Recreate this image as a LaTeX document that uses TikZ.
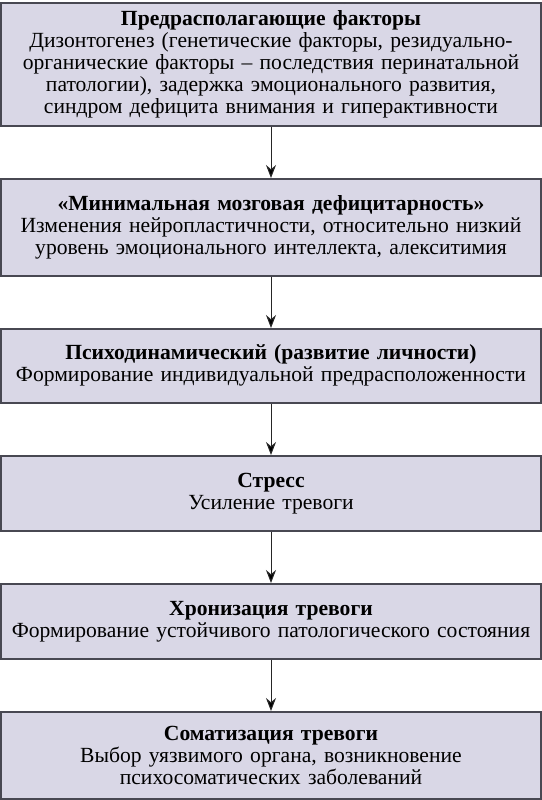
\documentclass[tikz,border=0pt]{standalone}
\usepackage{fontspec}
\setmainfont{Liberation Serif}
\usetikzlibrary{positioning,arrows.meta}

\definecolor{stagefill}{RGB}{217,215,230}
\definecolor{stageline}{RGB}{72,72,82}

\begin{document}
\begin{tikzpicture}[
    stage/.style={draw=stageline, fill=stagefill, line width=0.75pt,
      text width=268pt, inner xsep=1pt, inner ysep=0pt, align=center,
      font=\fontsize{10.8}{11}\selectfont},
    node distance=25.75pt]
  \useasboundingbox (0,0) rectangle (271pt,-400pt);
  \node[stage, minimum height=61.5pt, anchor=north] (pred) at (135.5pt,-1pt)
    {\textbf{Предрасполагающие факторы}\\
     Дизонтогенез (генетические факторы, резидуально-\\
     органические факторы – последствия перинатальной\\
     патологии), задержка эмоционального развития,\\
     синдром дефицита внимания и гиперактивности};
  \node[stage, minimum height=48.5pt, below=of pred] (mmd)
    {\textbf{«Минимальная мозговая дефицитарность»}\\
     Изменения нейропластичности, относительно низкий\\
     уровень эмоционального интеллекта, алекситимия};
  \node[stage, minimum height=37pt, below=of mmd] (psych)
    {\textbf{Психодинамический (развитие личности)}\\
     Формирование индивидуальной предрасположенности};
  \node[stage, minimum height=37.5pt, below=of psych] (stress)
    {\textbf{Стресс}\\
     Усиление тревоги};
  \node[stage, minimum height=37.5pt, below=of stress] (chron)
    {\textbf{Хронизация тревоги}\\
     Формирование устойчивого патологического состояния};
  \node[stage, minimum height=43.5pt, below=of chron] (somat)
    {\textbf{Соматизация тревоги}\\
     Выбор уязвимого органа, возникновение\\
     психосоматических заболеваний};
  \path[-{Stealth[length=6.5pt,width=5pt]}, line width=0.5pt, draw=black!85]
    (pred)   edge (mmd)
    (mmd)    edge (psych)
    (psych)  edge (stress)
    (stress) edge (chron)
    (chron)  edge (somat);
\end{tikzpicture}
\end{document}
